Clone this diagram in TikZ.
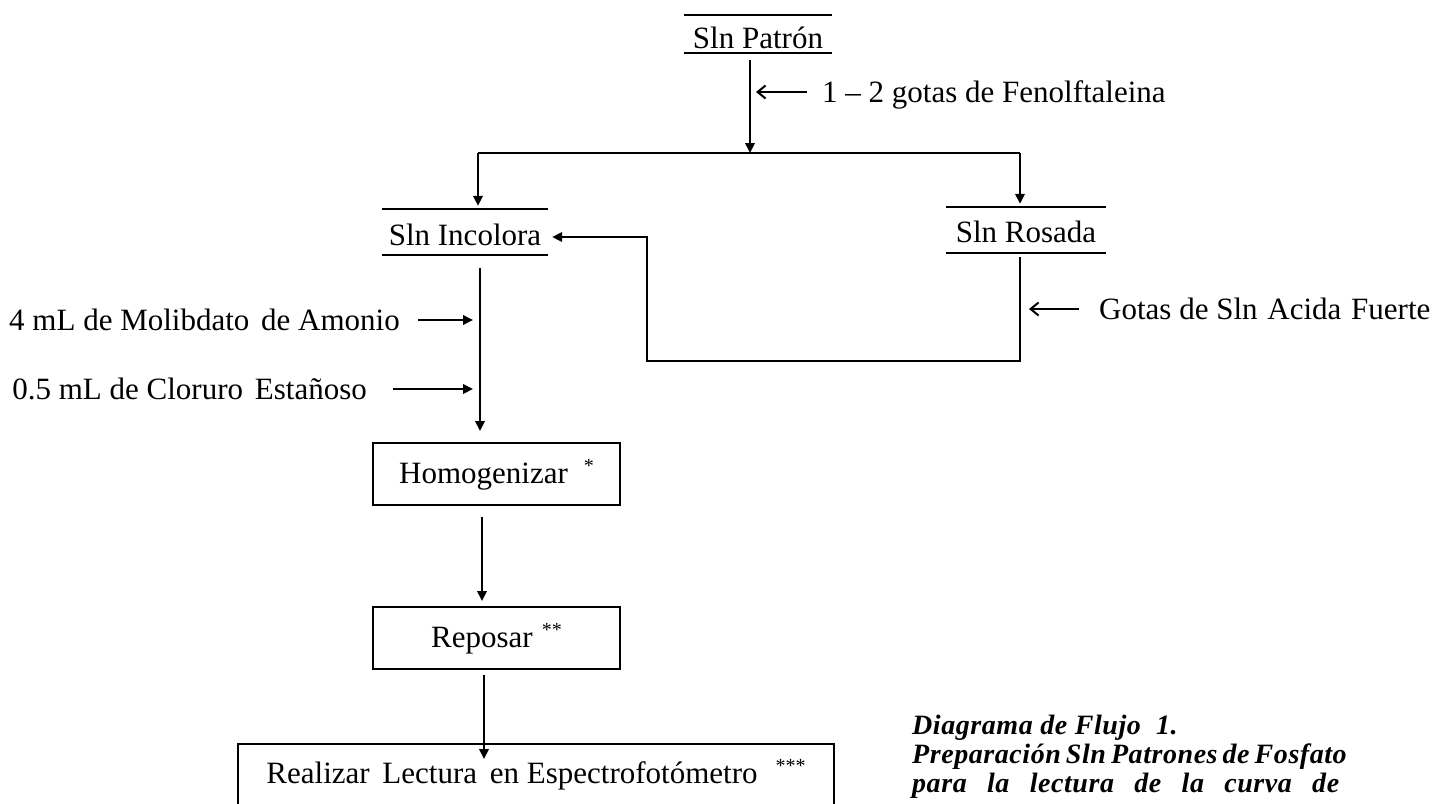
\documentclass[tikz,border=0pt]{standalone}
\usepackage{fontspec}
\setmainfont{Liberation Serif}
\newfontfamily\capfont[LetterSpace=2]{Liberation Serif}
\usetikzlibrary{arrows.meta,calc}
\newcommand\astk[1]{\raisebox{10.5pt}{\fontsize{20}{20}\selectfont #1}}
\begin{document}
\begin{tikzpicture}[x=1pt,y=-1pt,
  ln/.style={line width=2pt},
  arr/.style={ln,-{Triangle[length=10pt,width=9.5pt]}},
  barb/.style={ln,-{Straight Barb[length=8pt,width=13pt,line width=2pt]}},
  fnt/.style={font=\fontsize{31}{37}\selectfont},
  lbl/.style={fnt,inner sep=0pt,text height=27pt,text depth=7pt},
  ulbox/.style={fnt,inner sep=0pt,text depth=0pt},
  stepbox/.style={fnt,draw,line width=2pt,inner sep=0pt,text height=25pt,text depth=7pt,minimum height=62pt},
  captxt/.style={font=\fontsize{28}{28}\capfont\bfseries\itshape,inner sep=0pt,anchor=base west}
]
\fill[white] (0,0) rectangle (1442,803);
\useasboundingbox (0,0) rectangle (1442,803);
\clip (0,0) rectangle (1442,803);

% underlined / overlined solution nodes
\node[ulbox,minimum width=148pt,minimum height=38pt,text height=28pt] (patron) at (758,34) {Sln Patrón};
\node[ulbox,minimum width=166pt,minimum height=46pt,text height=26pt] (incolora) at (465,232) {Sln Incolora};
\node[ulbox,minimum width=160pt,minimum height=46pt,text height=25pt] (rosada) at (1026,230) {Sln Rosada};
\foreach \n in {patron,incolora,rosada}{
  \draw[ln] (\n.north west) -- (\n.north east) (\n.south west) -- (\n.south east);
}

% side labels
\node[lbl,anchor=base west] (fenol) at (822,102) {1 – 2 gotas de Fenolftaleina};
\node[lbl,anchor=base west] (acida) at (1099,319) {Gotas de Sln\hspace{2pt} Acida\hspace{2pt} Fuerte};
\node[lbl,anchor=base east] (molib) at (400,330) {4 mL de Molibdato\hspace{4pt} de Amonio};
\node[lbl,anchor=base east] (clor) at (367,399) {0.5 mL de Cloruro\hspace{4pt} Estañoso};

% process boxes
\node[stepbox,minimum width=247pt] (homog) at (496.5,474) {Homogenizar\hspace{16pt}\astk{*}};
\node[stepbox,minimum width=247pt] (reposar) at (496.5,638) {Reposar\hspace{9pt}\astk{**}};
\node[stepbox,minimum width=596pt,minimum height=64pt,text height=21pt] (last) at (536,776) {Realizar\hspace{5pt} Lectura\hspace{5pt} en Espectrofotómetro\hspace{18pt}\astk{***}};

% caption
\node[captxt] (cap1) at (912,734) {Diagrama de Flujo\ \ 1.};
\node[captxt] (cap2) at (912,763) {\makebox[427pt][s]{Preparación Sln Patrones de Fosfato}};
\node[captxt] (cap3) at (912,792) {\makebox[427pt][s]{para la lectura de la curva de}};

% junctions
\coordinate (j1) at (750,153);
\coordinate (jl) at (478,153);
\coordinate (jr) at (1020,153);
\coordinate (ret) at (647,361);
\coordinate (rs) at ([xshift=-6pt,yshift=-4pt]rosada.south);
\coordinate (vtop) at ([xshift=15pt,yshift=-13pt]incolora.south);
\coordinate (h1) at ([xshift=-14.5pt,yshift=-11pt]homog.south);
\coordinate (r1) at ([xshift=-12.5pt,yshift=-5pt]reposar.south);

% connectors
\draw[arr] ([xshift=-8pt,yshift=-7pt]patron.south) -- (j1);
\draw[barb] ([xshift=-15pt]fenol.west) -- ([xshift=6pt]fenol.west -| j1);
\draw[ln] (jl) -- (jr);
\draw[arr] (jl) -- ([yshift=3pt]jl |- incolora.north);
\draw[arr] (jr) -- ([yshift=3pt]jr |- rosada.north);
\draw[arr] (rs) |- (ret) |- ([xshift=4pt,yshift=-5pt]incolora.east);
\draw[barb] ([xshift=-20pt]acida.west) -- ([xshift=9pt]acida.west -| rs);
\draw[arr] (vtop) -- ([yshift=11pt]vtop |- homog.north);
\draw[arr] ([xshift=18pt]molib.east) -- ([xshift=-7pt]molib.east -| vtop);
\draw[arr] ([xshift=26pt]clor.east) -- ([xshift=-7pt]clor.east -| vtop);
\draw[arr] (h1) -- ([yshift=5pt]h1 |- reposar.north);
\draw[arr] (r1) -- ([yshift=-16pt]r1 |- last.north);
\end{tikzpicture}
\end{document}
